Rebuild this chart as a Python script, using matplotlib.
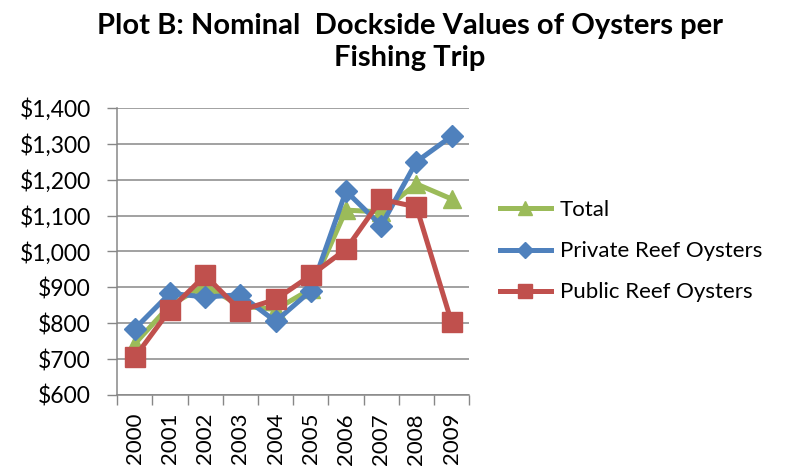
import matplotlib
matplotlib.use("Agg")
import matplotlib.pyplot as plt
from matplotlib.ticker import FuncFormatter, FixedLocator

plt.rcParams['font.family'] = ['Lato', 'DejaVu Sans']

years = ['2000', '2001', '2002', '2003', '2004', '2005', '2006', '2007', '2008', '2009']
total = [742, 850, 905, 848, 838, 895, 1115, 1110, 1188, 1146]
private_reef = [784, 883, 873, 879, 805, 890, 1168, 1072, 1250, 1321]
public_reef = [705, 837, 933, 835, 866, 933, 1006, 1145, 1124, 802]

fig = plt.figure(figsize=(7.86, 4.69), dpi=100)
ax = fig.add_axes([0.149, 0.158, 0.448, 0.612])

x = list(range(len(years)))
ax.plot(x, total, color='#9BBB59', lw=3.6, marker='^', ms=13,
        label='Total', zorder=3)
ax.plot(x, private_reef, color='#4F81BD', lw=3.6, marker='D', ms=11.5,
        label='Private Reef Oysters', zorder=4)
ax.plot(x, public_reef, color='#C0504D', lw=3.6, marker='s', ms=14,
        label='Public Reef Oysters', zorder=5)

ax.set_xlim(-0.5, len(years) - 0.5)
ax.set_ylim(600, 1400)
ax.set_yticks(range(600, 1401, 100))
ax.yaxis.set_major_formatter(FuncFormatter(lambda v, p: f'${v:,.0f}'))
ax.grid(axis='y', color='#878787', lw=1.1)
ax.set_axisbelow(True)

ax.set_xticks(x)
ax.set_xticklabels(years, rotation=90)
ax.xaxis.set_minor_locator(FixedLocator([i - 0.5 for i in range(len(years) + 1)]))
ax.tick_params(axis='x', which='major', length=0, pad=13, labelsize=16, colors='black')
ax.tick_params(axis='x', which='minor', length=7, width=1, color='#878787')
ax.tick_params(axis='y', length=7, width=1, color='#878787', labelsize=16.5, pad=12)

for s in ['top', 'right']:
    ax.spines[s].set_visible(False)
for s in ['left', 'bottom']:
    ax.spines[s].set_color('#878787')
    ax.spines[s].set_linewidth(1.1)

leg = ax.legend(loc='center left', bbox_to_anchor=(1.03, 0.5), frameon=False,
                fontsize=16, handlelength=2.3, handletextpad=0.4,
                labelspacing=0.95, markerscale=0.75)

fig.text(0.521, 0.911, 'Plot B: Nominal  Dockside Values of Oysters per\nFishing Trip',
         ha='center', va='center', fontsize=21, fontweight='bold',
         linespacing=1.3)

fig.savefig('out.png', dpi=100)
